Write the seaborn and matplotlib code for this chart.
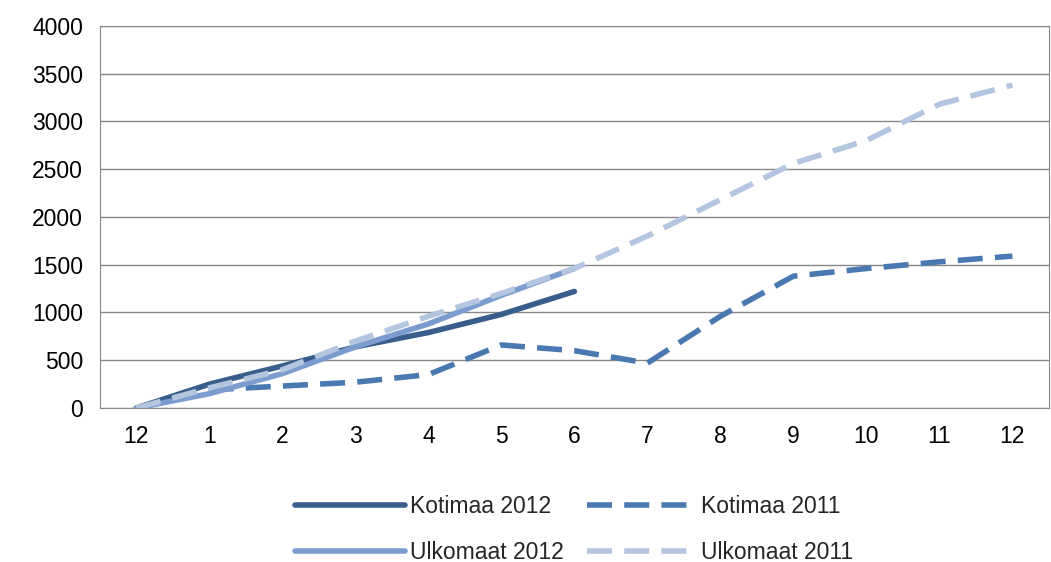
import matplotlib
matplotlib.use("Agg")
import matplotlib.pyplot as plt
import seaborn as sns
import pandas as pd

months = ["12", "1", "2", "3", "4", "5", "6", "7", "8", "9", "10", "11", "12"]
kotimaa_2012 = [0, 250, 440, 640, 790, 980, 1220]
kotimaa_2011 = [0, 190, 230, 270, 350, 660, 600, 470, 960, 1380, 1460, 1530, 1590]
ulkomaat_2012 = [0, 150, 360, 640, 880, 1180, 1460]
ulkomaat_2011 = [0, 210, 400, 700, 960, 1200, 1460, 1800, 2180, 2560, 2800, 3180, 3380]

sns.set_style("white")
plt.rcParams["font.family"] = ["Liberation Sans", "DejaVu Sans"]

fig = plt.figure(figsize=(10.51, 5.62), dpi=100)
ax = fig.add_axes([0.095, 0.274, 0.903, 0.68])

series = [
    ("Kotimaa 2012", kotimaa_2012, "#3A5E8C", False),
    ("Kotimaa 2011", kotimaa_2011, "#4A78B0", True),
    ("Ulkomaat 2012", ulkomaat_2012, "#7C9BCF", False),
    ("Ulkomaat 2011", ulkomaat_2011, "#B4C5DF", True),
]
handles = {}
for name, vals, color, dashed in series:
    df = pd.DataFrame({"x": range(len(vals)), "y": vals})
    sns.lineplot(data=df, x="x", y="y", ax=ax, color=color,
                 linewidth=4, label=name)
    ln = ax.lines[-1]
    if dashed:
        ln.set_dashes((4.5, 2.2))
    handles[name] = ln

ax.set_xlim(-0.5, 12.5)
ax.set_ylim(0, 4000)
ax.set_xticks(range(len(months)))
ax.set_xticklabels(months)
ax.set_yticks(range(0, 4001, 500))
ax.yaxis.grid(True, color="#888888", linewidth=1)
ax.set_xlabel("")
ax.set_ylabel("")
ax.tick_params(labelsize=16.5, length=0, pad=12, labelcolor="black")
ax.tick_params(axis="y", pad=12)
for s in ax.spines.values():
    s.set_color("#888888")

order = ["Kotimaa 2012", "Ulkomaat 2012", "Kotimaa 2011", "Ulkomaat 2011"]
ax.legend([handles[n] for n in order], order, ncol=2, loc="upper center",
          bbox_to_anchor=(0.5, -0.185), frameon=False,
          fontsize=16.5, handlelength=4.8, columnspacing=1.0, labelspacing=1.0,
          handletextpad=0.2, borderpad=0.2)

fig.savefig("out.png", dpi=100)
